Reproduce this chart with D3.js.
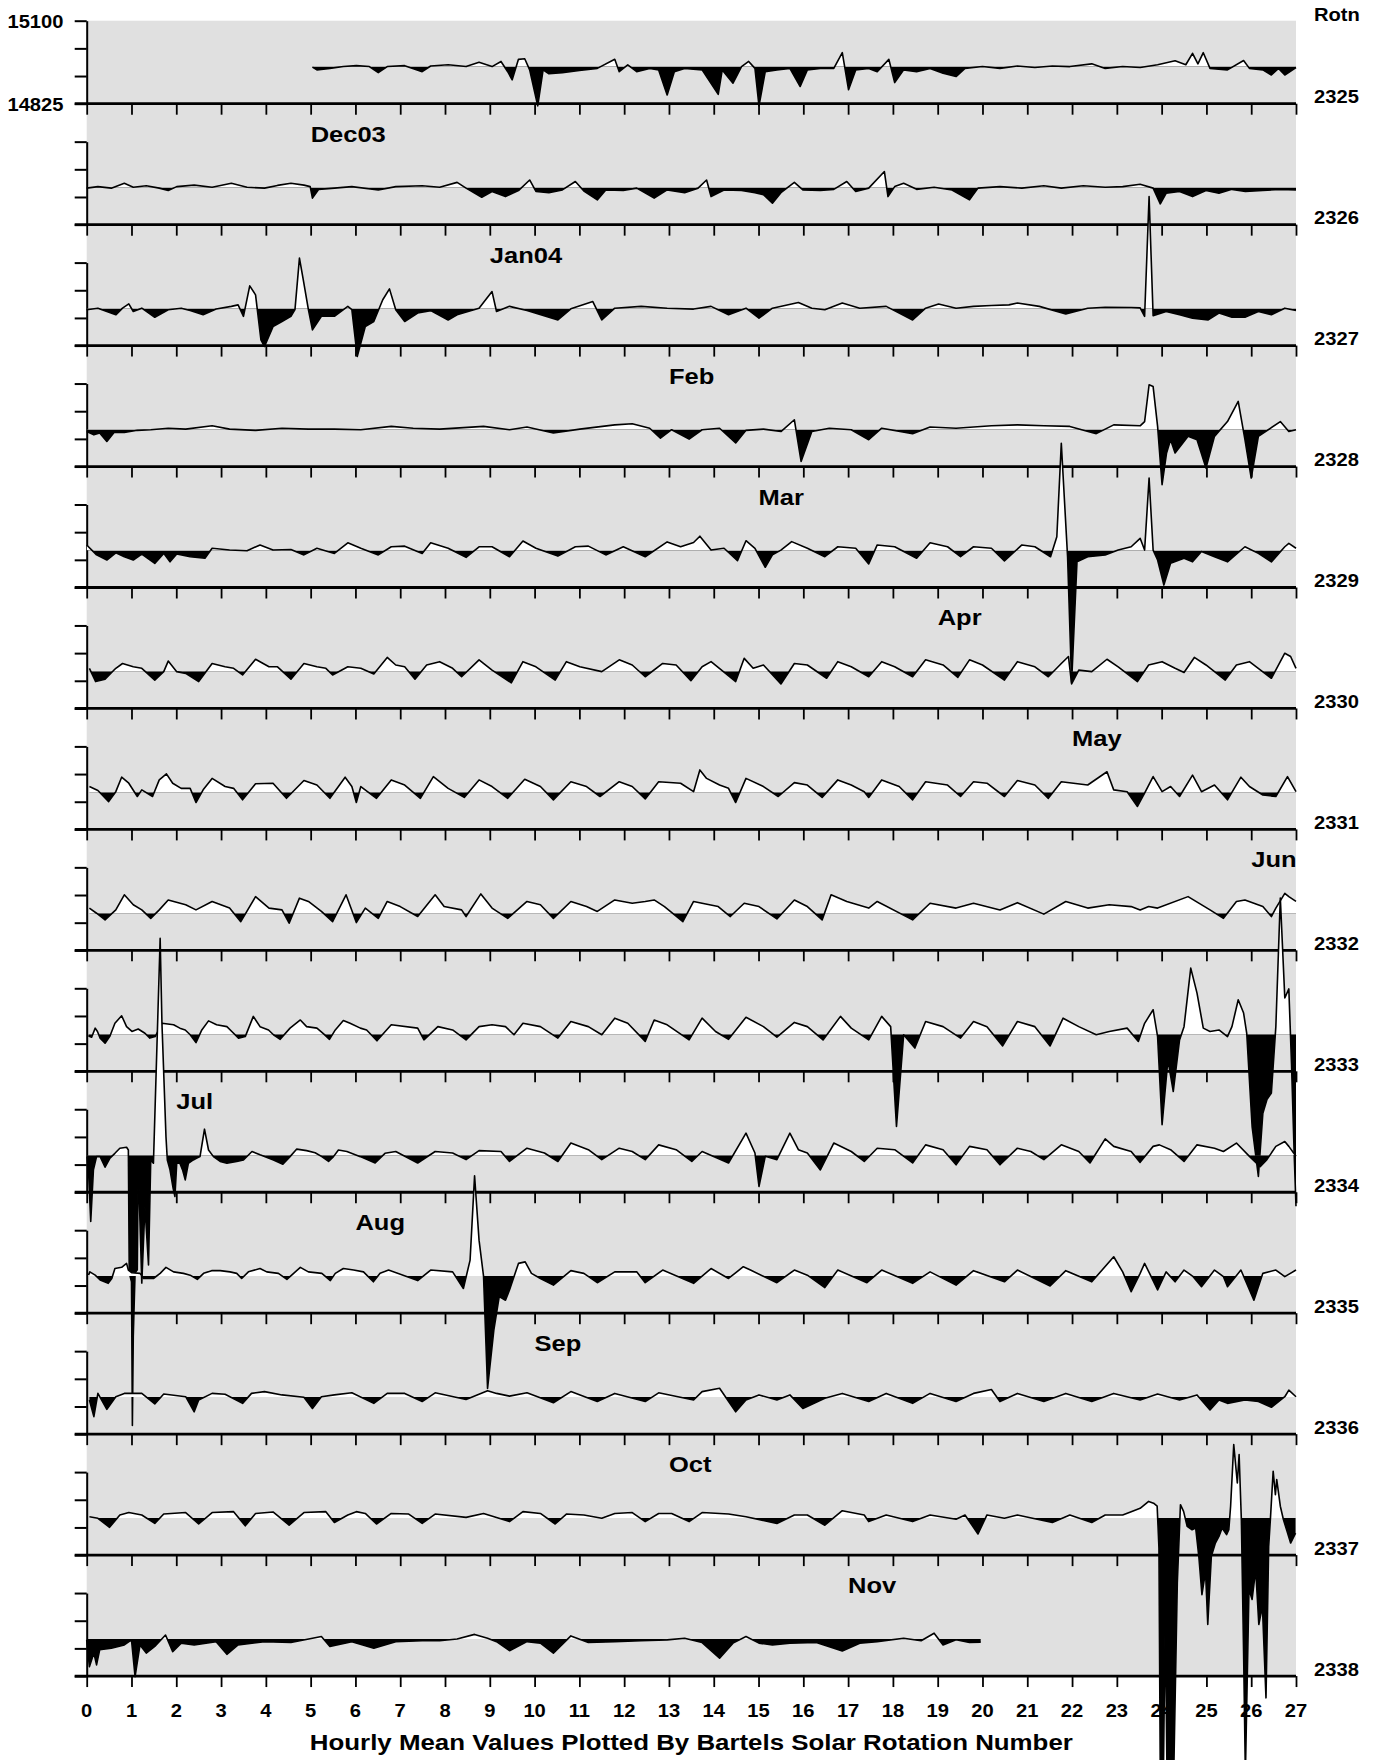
<!DOCTYPE html>
<html>
<head>
<meta charset="utf-8">
<script src="https://cdn.jsdelivr.net/npm/d3@7"></script>
<style>
  body { margin: 0; background: #fff; }
  svg text { font-family: "Liberation Sans", Arial, sans-serif; font-weight: bold; fill: #000; }
</style>
</head>
<body>
<svg id="chart" width="1375" height="1760"></svg>
<script>
// hourly mean values, as [day of rotation, nT above 14948 nT]
const r2325 = [[5.04,-2],[5.14,-11],[5.43,-6],[5.73,0],[6.02,3],[6.31,0],[6.51,-20],[6.71,0],[7.10,3],[7.49,-17],[7.68,2],[8.07,6],[8.47,0],[8.76,14],[9.05,0],[9.25,17],[9.40,-17],[9.50,-44],[9.64,24],[9.78,26],[9.89,-11],[10.07,-130],[10.19,-11],[10.32,-24],[10.62,-20],[11.00,-13],[11.40,-6],[11.79,24],[11.89,-17],[12.08,6],[12.28,-17],[12.57,-6],[12.77,-11],[12.96,-94],[13.12,-17],[13.35,-6],[13.74,-11],[14.10,-92],[14.19,-11],[14.43,-55],[14.62,0],[14.78,17],[14.92,-6],[15.01,-130],[15.15,-17],[15.41,-11],[15.70,-6],[15.93,-66],[16.09,-11],[16.38,-6],[16.68,-6],[16.87,46],[17.01,-77],[17.17,-11],[17.46,-6],[17.65,-17],[17.91,24],[18.04,-53],[18.24,-11],[18.53,-17],[18.83,-6],[19.12,-22],[19.41,-33],[19.61,-6],[20.0,0],[20.39,-6],[20.78,2],[21.17,-3],[21.56,2],[21.95,0],[22.44,9],[22.74,-6],[23.13,0],[23.52,-3],[23.91,6],[24.30,19],[24.54,6],[24.69,44],[24.81,9],[24.93,46],[25.08,-6],[25.47,-11],[25.83,20],[25.96,-6],[26.26,-11],[26.45,-28],[26.61,-6],[26.75,-28],[27.0,-3]];
const r2326 = [[0,-2],[0.25,3],[0.55,-2],[0.84,14],[1.04,1],[1.33,6],[1.62,-2],[1.82,-10],[2.01,3],[2.40,8],[2.80,1],[3.23,14],[3.58,1],[3.97,-2],[4.26,7],[4.56,14],[4.85,8],[4.99,3],[5.04,-35],[5.18,-6],[5.53,-2],[5.92,3],[6.51,-8],[6.90,3],[7.49,6],[7.88,1],[8.27,17],[8.47,-2],[8.82,-32],[9.05,-13],[9.35,-30],[9.64,-10],[9.89,25],[10.03,-13],[10.32,-17],[10.62,-8],[10.91,20],[11.11,-13],[11.40,-41],[11.59,-8],[11.98,-10],[12.28,-2],[12.67,-35],[12.96,-8],[13.35,-17],[13.65,-2],[13.84,25],[13.94,-30],[14.23,-8],[14.62,-10],[14.92,-17],[15.11,-24],[15.31,-52],[15.50,-17],[15.80,17],[15.99,-8],[16.38,-10],[16.68,-6],[16.97,20],[17.17,-13],[17.46,-2],[17.81,53],[17.89,-30],[18.04,3],[18.24,14],[18.53,-6],[18.92,1],[19.32,-8],[19.71,-41],[19.90,-2],[20.39,3],[20.88,-2],[21.37,6],[21.76,-2],[22.25,6],[22.74,1],[23.13,3],[23.52,11],[23.81,-2],[23.97,-54],[24.10,-19],[24.40,-13],[24.69,-30],[24.99,-10],[25.28,-19],[25.57,-6],[25.87,-13],[26.26,-10],[26.65,-6],[27.0,-8]];
const r2327 = [[0,-4],[0.25,1],[0.45,-10],[0.65,-21],[0.80,1],[0.94,15],[1.04,-10],[1.23,1],[1.52,-29],[1.82,-4],[2.11,1],[2.31,-7],[2.60,-21],[2.89,-2],[3.23,7],[3.38,12],[3.50,-26],[3.64,75],[3.77,45],[3.89,-104],[3.97,-126],[4.16,-60],[4.36,-43],[4.56,-26],[4.65,-4],[4.75,167],[4.83,100],[4.95,-4],[5.04,-71],[5.24,-26],[5.53,-26],[5.83,7],[5.92,-4],[6.04,-159],[6.22,-60],[6.41,-43],[6.61,29],[6.76,65],[6.90,-4],[7.10,-43],[7.39,-15],[7.68,-7],[8.07,-38],[8.27,-21],[8.76,1],[9.05,56],[9.15,-10],[9.44,7],[9.83,-7],[10.52,-38],[10.81,-1],[11.30,23],[11.50,-38],[11.79,1],[12.38,7],[12.96,1],[13.55,-2],[13.94,7],[14.33,-21],[14.72,1],[15.01,-32],[15.31,1],[15.89,20],[16.19,1],[16.48,-4],[16.87,18],[17.26,1],[17.85,7],[18.44,-38],[18.73,1],[19.02,15],[19.41,1],[19.80,7],[20.20,10],[20.59,12],[20.78,18],[21.27,7],[21.86,-18],[22.35,1],[22.74,4],[23.32,3],[23.52,2],[23.62,-26],[23.72,371],[23.81,-24],[24.10,-10],[24.40,-21],[24.69,-32],[25.04,-38],[25.28,-15],[25.57,-29],[25.86,-29],[26.16,-10],[26.45,-21],[26.75,1],[27.0,-7]];
const r2328 = [[0,-7],[0.16,-18],[0.29,-12],[0.45,-40],[0.61,-10],[0.84,-10],[1.13,-3],[1.43,-1],[1.82,4],[2.21,1],[2.80,12],[3.19,1],[3.77,-3],[4.36,4],[4.95,1],[5.53,1],[6.12,-1],[6.80,10],[7.29,4],[7.88,1],[8.86,10],[9.44,-1],[9.83,8],[10.42,-12],[11.01,1],[11.79,15],[12.18,19],[12.57,4],[12.81,-29],[13.06,-1],[13.45,-32],[13.74,-1],[14.13,4],[14.49,-45],[14.72,-3],[15.11,1],[15.50,-7],[15.80,32],[15.95,-106],[16.19,-7],[16.58,4],[17.07,-1],[17.46,-34],[17.75,4],[18.44,-14],[18.83,8],[19.41,4],[20.20,12],[20.78,15],[21.37,12],[21.95,10],[22.54,-14],[22.93,15],[23.52,12],[23.62,26],[23.72,148],[23.81,142],[23.91,10],[24.01,-183],[24.11,-78],[24.20,-34],[24.30,-78],[24.59,-23],[24.79,-34],[24.99,-128],[25.18,-23],[25.47,26],[25.71,93],[25.86,-34],[26.0,-161],[26.16,-23],[26.65,26],[26.84,-7],[27.0,-1]];
const r2329 = [[0,18],[0.22,-15],[0.45,-32],[0.65,-8],[0.84,-21],[1.04,-32],[1.23,-12],[1.52,-43],[1.72,-10],[1.86,-38],[2.01,-12],[2.31,-21],[2.64,-26],[2.80,7],[3.19,1],[3.58,-1],[3.87,18],[4.16,1],[4.56,3],[4.85,-15],[5.14,7],[5.53,-10],[5.83,25],[6.12,7],[6.51,-15],[6.80,12],[7.10,14],[7.49,-10],[7.68,25],[8.07,7],[8.47,-23],[8.76,12],[9.05,12],[9.44,-21],[9.74,31],[10.03,7],[10.52,-19],[10.91,12],[11.20,14],[11.59,-15],[11.98,12],[12.47,-21],[12.96,28],[13.26,12],[13.55,26],[13.69,47],[13.94,1],[14.23,7],[14.53,-34],[14.72,32],[14.92,7],[15.15,-56],[15.31,-15],[15.50,1],[15.74,29],[16.09,7],[16.48,-21],[16.77,12],[17.17,7],[17.46,-45],[17.65,18],[18.04,12],[18.53,-26],[18.83,25],[19.22,12],[19.51,-21],[19.80,12],[20.20,7],[20.49,-35],[20.88,18],[21.17,12],[21.52,-21],[21.66,45],[21.76,355],[21.90,-21],[21.99,-438],[22.11,-38],[22.35,-21],[22.74,-15],[23.03,1],[23.32,12],[23.52,40],[23.62,1],[23.72,240],[23.81,1],[23.91,-32],[24.05,-115],[24.20,-43],[24.50,-26],[24.69,-38],[24.89,-4],[25.18,-21],[25.47,-38],[25.86,12],[26.16,-10],[26.45,-38],[26.75,12],[26.84,23],[27.0,7]];
const r2330 = [[0.06,10],[0.20,-34],[0.41,-26],[0.65,10],[0.80,26],[1.04,15],[1.23,10],[1.52,-29],[1.72,-1],[1.82,34],[2.01,-1],[2.21,-7],[2.50,-34],[2.80,26],[3.09,15],[3.28,10],[3.48,-12],[3.77,40],[4.07,15],[4.26,15],[4.56,-26],[4.85,26],[5.14,15],[5.34,10],[5.49,-12],[5.83,15],[6.12,10],[6.41,-9],[6.71,46],[6.90,21],[7.10,15],[7.33,-26],[7.59,21],[7.88,32],[8.17,10],[8.37,-18],[8.76,38],[9.05,4],[9.48,-38],[9.74,32],[10.03,15],[10.46,-29],[10.71,32],[11.01,15],[11.50,-1],[11.89,38],[12.18,21],[12.47,-18],[12.86,26],[13.16,21],[13.49,-31],[13.74,15],[13.94,32],[14.49,-34],[14.68,43],[14.88,10],[15.11,21],[15.50,-42],[15.80,26],[16.09,21],[16.52,-23],[16.77,32],[17.07,15],[17.46,-18],[17.75,32],[18.04,15],[18.44,-18],[18.73,38],[19.12,21],[19.45,-20],[19.71,38],[20.0,21],[20.49,-29],[20.78,32],[21.17,15],[21.47,-18],[21.76,26],[21.92,49],[21.99,-42],[22.15,4],[22.44,-1],[22.78,40],[23.03,15],[23.46,-34],[23.71,21],[24.01,32],[24.30,10],[24.50,-4],[24.73,46],[24.99,21],[25.42,-29],[25.67,21],[25.96,32],[26.45,-23],[26.75,60],[26.88,49],[27.0,10]];
const r2331 = [[0.06,19],[0.25,6],[0.49,-31],[0.65,2],[0.78,50],[0.94,30],[1.13,-14],[1.23,8],[1.47,-14],[1.62,41],[1.78,61],[1.92,30],[2.11,13],[2.31,13],[2.44,-34],[2.60,8],[2.80,46],[3.09,19],[3.28,13],[3.48,-25],[3.77,28],[4.16,30],[4.46,-20],[4.85,39],[5.14,24],[5.43,-20],[5.77,50],[5.92,19],[6.02,-34],[6.12,19],[6.47,-20],[6.80,41],[7.10,24],[7.45,-20],[7.74,52],[8.07,13],[8.43,-17],[8.76,41],[9.05,19],[9.40,-20],[9.78,43],[10.13,19],[10.42,-25],[10.81,35],[11.16,19],[11.46,-14],[11.89,35],[12.18,19],[12.47,-22],[12.77,35],[13.26,30],[13.55,2],[13.69,74],[13.84,46],[14.13,24],[14.33,13],[14.49,-34],[14.72,46],[15.11,19],[15.44,-14],[15.80,32],[16.09,24],[16.42,-17],[16.77,41],[17.07,24],[17.36,2],[17.46,-17],[17.75,41],[18.14,19],[18.44,-25],[18.73,35],[19.22,24],[19.51,-14],[19.80,35],[20.10,30],[20.49,-14],[20.78,39],[21.17,24],[21.47,-20],[21.76,35],[22.35,24],[22.78,68],[22.93,8],[23.23,2],[23.46,-47],[23.62,-3],[23.81,52],[24.01,2],[24.20,19],[24.40,-14],[24.69,57],[24.89,2],[25.18,24],[25.47,-25],[25.77,50],[25.96,19],[26.26,-9],[26.55,-14],[26.81,52],[27.0,2]];
const r2332 = [[0.06,17],[0.22,0],[0.41,-22],[0.65,11],[0.84,61],[1.04,28],[1.23,11],[1.43,-17],[1.62,11],[1.82,44],[2.21,28],[2.44,11],[2.80,39],[3.19,17],[3.44,-28],[3.77,55],[4.07,17],[4.36,11],[4.52,-33],[4.75,50],[4.95,39],[5.24,6],[5.49,-28],[5.79,61],[6.02,-31],[6.22,17],[6.51,-17],[6.71,39],[7.0,22],[7.39,-11],[7.78,61],[7.98,22],[8.37,11],[8.47,-11],[8.80,64],[9.05,17],[9.40,-17],[9.83,39],[10.13,28],[10.42,-17],[10.81,39],[11.16,22],[11.40,6],[11.79,44],[12.18,33],[12.47,39],[12.67,44],[12.90,22],[13.31,-28],[13.55,39],[13.74,33],[14.10,22],[14.37,-11],[14.68,33],[15.01,22],[15.41,-19],[15.80,44],[16.09,22],[16.42,-22],[16.62,61],[16.97,39],[17.46,17],[17.65,39],[18.44,-22],[18.83,33],[19.41,17],[19.80,33],[20.39,11],[20.78,35],[21.37,-3],[21.86,39],[22.35,17],[22.83,28],[23.32,22],[23.52,11],[23.71,22],[23.91,17],[24.59,55],[25.08,11],[25.38,-17],[25.67,39],[25.86,44],[26.26,22],[26.45,-11],[26.55,17],[26.75,66],[26.84,55],[27.0,39]];
const r2333 = [[0.04,-6],[0.11,-10],[0.19,20],[0.24,9],[0.30,-13],[0.41,-30],[0.52,-6],[0.63,36],[0.78,61],[0.89,25],[1.01,9],[1.15,17],[1.30,3],[1.41,-13],[1.53,-8],[1.68,36],[1.94,31],[2.08,20],[2.20,14],[2.31,-2],[2.44,-28],[2.57,14],[2.72,44],[2.90,31],[3.13,25],[3.24,9],[3.39,-13],[3.54,-8],[3.72,59],[3.87,25],[4.06,14],[4.17,-2],[4.32,-17],[4.54,20],[4.77,47],[4.91,25],[5.14,20],[5.29,1],[5.42,-17],[5.55,14],[5.73,45],[5.88,36],[6.11,20],[6.25,14],[6.48,-22],[6.80,31],[7.39,20],[7.53,-19],[7.84,25],[8.17,14],[8.47,-19],[8.76,25],[9.05,31],[9.35,25],[9.54,-2],[9.74,36],[10.13,25],[10.52,-13],[10.81,42],[11.20,25],[11.50,-2],[11.79,53],[12.08,36],[12.47,-24],[12.67,47],[12.96,31],[13.45,-19],[13.74,53],[14.04,9],[14.33,-17],[14.72,56],[15.11,25],[15.41,-10],[15.80,39],[16.09,25],[16.44,-19],[16.83,59],[17.07,20],[17.46,-19],[17.75,59],[17.95,25],[18.08,-306],[18.24,-2],[18.49,-46],[18.73,42],[19.12,25],[19.51,-13],[19.80,42],[20.10,25],[20.45,-39],[20.78,42],[21.17,25],[21.51,-39],[21.80,53],[22.15,25],[22.54,-2],[22.83,9],[23.23,20],[23.48,-24],[23.62,36],[23.81,81],[23.91,-8],[24.01,-300],[24.14,-85],[24.26,-190],[24.40,-19],[24.50,25],[24.65,219],[24.79,136],[24.93,20],[25.08,9],[25.28,14],[25.47,-8],[25.57,25],[25.71,114],[25.83,70],[25.90,3],[26.02,-306],[26.16,-471],[26.26,-262],[26.35,-217],[26.45,-195],[26.55,25],[26.65,451],[26.75,120],[26.84,150],[26.90,-100],[26.96,-400],[27.0,-570]];
const r2334 = [[0.01,-5],[0.04,-49],[0.09,-220],[0.15,-49],[0.22,-5],[0.30,-5],[0.41,-40],[0.52,-10],[0.63,6],[0.74,23],[0.89,26],[0.93,17],[0.95,-390],[1.00,-420],[1.02,-896],[1.04,-600],[1.08,-390],[1.13,-380],[1.15,-20],[1.23,-424],[1.30,-170],[1.38,-364],[1.43,-15],[1.49,-27],[1.64,718],[1.68,437],[1.77,61],[1.80,-16],[1.86,-49],[1.93,-110],[1.97,-137],[2.01,-27],[2.08,-27],[2.14,-49],[2.20,-82],[2.27,-27],[2.38,-16],[2.46,-10],[2.53,-5],[2.63,86],[2.72,17],[2.83,-5],[2.98,-21],[3.13,-27],[3.35,-21],[3.50,-16],[3.69,12],[3.87,1],[4.17,-16],[4.38,-30],[4.54,-5],[4.69,20],[4.91,15],[5.10,8],[5.25,-5],[5.40,-21],[5.51,-5],[5.62,17],[5.81,12],[6.11,-5],[6.44,-26],[6.66,6],[6.90,12],[7.39,-26],[7.78,12],[8.17,7],[8.47,-15],[8.76,15],[9.25,12],[9.44,-21],[9.83,23],[10.22,7],[10.52,-21],[10.81,40],[11.20,18],[11.50,-15],[11.89,23],[12.18,12],[12.47,-15],[12.77,34],[13.16,18],[13.51,-21],[13.74,12],[14.33,-26],[14.72,73],[14.92,7],[15.01,-104],[15.15,-4],[15.41,-15],[15.70,73],[15.89,18],[16.09,7],[16.38,-49],[16.68,40],[17.07,12],[17.36,-21],[17.65,23],[18.04,18],[18.44,-26],[18.73,34],[19.12,18],[19.41,-32],[19.71,29],[20.10,18],[20.39,-32],[20.78,23],[21.08,12],[21.37,-15],[21.76,34],[22.15,12],[22.40,-26],[22.74,54],[22.93,29],[23.32,12],[23.52,-24],[23.81,29],[23.95,34],[24.20,18],[24.50,-21],[24.79,34],[25.18,23],[25.38,12],[25.67,40],[25.96,-4],[26.20,-38],[26.35,-15],[26.55,29],[26.75,45],[26.84,29],[27.0,-4]];
const r2335 = [[0.04,3],[0.07,14],[0.19,3],[0.30,-13],[0.48,-24],[0.56,-8],[0.63,25],[0.78,29],[0.89,42],[0.93,20],[1.01,11],[1.19,9],[1.27,-8],[1.49,-8],[1.64,9],[1.77,29],[1.94,14],[2.16,9],[2.31,3],[2.47,-11],[2.61,9],[2.79,18],[2.98,18],[3.20,14],[3.35,9],[3.46,-8],[3.61,14],[3.87,25],[4.02,14],[4.28,9],[4.47,-11],[4.62,9],[4.77,29],[4.95,14],[5.25,9],[5.44,-15],[5.55,9],[5.73,25],[5.96,20],[6.18,14],[6.40,-19],[6.55,9],[6.74,20],[7.39,-15],[7.68,20],[8.17,14],[8.41,-41],[8.56,53],[8.66,332],[8.76,119],[8.86,0],[8.95,-372],[9.09,-179],[9.21,-68],[9.35,-80],[9.44,-46],[9.64,42],[9.79,47],[9.93,9],[10.13,-8],[10.42,-30],[10.81,18],[11.10,9],[11.40,-22],[11.79,14],[12.28,14],[12.47,-22],[12.86,20],[13.55,-24],[13.94,25],[14.33,-8],[14.66,31],[14.82,20],[15.41,-22],[15.80,20],[16.09,3],[16.48,-38],[16.77,20],[17.42,-22],[17.75,20],[18.44,-24],[18.83,14],[19.41,-30],[19.80,18],[20.49,-19],[20.78,20],[21.51,-33],[21.86,18],[22.44,-19],[22.93,64],[23.13,14],[23.32,-52],[23.52,9],[23.62,42],[23.75,3],[23.91,-46],[24.10,14],[24.30,-19],[24.50,20],[24.69,0],[24.89,-35],[25.18,20],[25.38,-2],[25.47,-35],[25.77,20],[26.06,-80],[26.26,9],[26.55,20],[26.75,-2],[27.0,20]];
const r2336 = [[0.06,-10],[0.16,-65],[0.25,12],[0.45,-41],[0.65,1],[0.84,12],[1.23,12],[1.52,-23],[1.72,10],[2.21,1],[2.40,-49],[2.50,-10],[2.80,12],[3.09,9],[3.48,-21],[3.68,12],[3.97,18],[4.36,7],[4.85,-1],[5.04,-38],[5.24,1],[5.53,7],[5.92,14],[6.41,-21],[6.71,12],[7.10,12],[7.49,-15],[7.78,14],[8.47,-8],[8.95,21],[9.15,12],[9.44,3],[9.83,14],[10.42,-19],[10.81,18],[11.40,-15],[11.79,12],[12.47,-15],[12.77,14],[13.55,-10],[13.74,18],[14.13,29],[14.49,-49],[14.72,-10],[15.01,7],[15.41,-10],[15.70,7],[15.99,-38],[16.48,-4],[16.87,12],[17.46,-15],[17.85,12],[18.44,-21],[18.83,12],[19.41,-15],[19.80,12],[20.20,25],[20.39,-15],[20.78,12],[21.37,-15],[21.86,12],[22.44,-15],[22.93,12],[23.52,-10],[23.91,10],[24.40,-10],[24.79,7],[25.08,-43],[25.28,-10],[25.47,-21],[25.86,-10],[26.16,-15],[26.45,-34],[26.75,1],[26.84,23],[27.0,1]];
const r2337 = [[0.06,4],[0.25,-1],[0.51,-31],[0.74,10],[0.94,18],[1.23,10],[1.52,-18],[1.72,13],[2.21,18],[2.50,-20],[2.80,18],[3.28,21],[3.54,-26],[3.77,15],[4.16,20],[4.52,-24],[4.85,18],[5.34,21],[5.53,-15],[5.83,10],[6.02,21],[6.22,15],[6.47,-20],[6.80,15],[7.19,13],[7.49,-18],[7.78,13],[8.47,2],[8.86,15],[9.44,-12],[9.74,21],[10.13,15],[10.46,-20],[10.71,13],[11.10,10],[11.50,-1],[11.79,15],[12.18,18],[12.47,-12],[12.77,15],[13.06,15],[13.45,-12],[13.74,18],[14.33,13],[14.72,4],[15.41,-18],[15.80,10],[16.09,10],[16.48,-24],[16.87,24],[17.36,10],[17.46,-12],[17.85,10],[18.44,-12],[18.83,10],[19.41,-4],[19.61,10],[19.90,-53],[20.10,10],[20.49,-1],[20.78,10],[21.56,-15],[21.95,10],[22.44,-15],[22.74,10],[23.13,10],[23.32,21],[23.52,32],[23.71,55],[23.82,49],[23.90,39],[23.94,-100],[23.97,-850],[24.04,-850],[24.08,-320],[24.12,-850],[24.27,-850],[24.35,-215],[24.42,44],[24.49,22],[24.57,-28],[24.68,-39],[24.76,-33],[24.83,-127],[24.90,-254],[24.98,-177],[25.03,-353],[25.11,-127],[25.20,-83],[25.28,-61],[25.35,-33],[25.45,-55],[25.50,-39],[25.54,39],[25.61,243],[25.69,116],[25.73,210],[25.78,-6],[25.83,-447],[25.87,-850],[25.95,-237],[26.02,-270],[26.10,-171],[26.17,-353],[26.25,-292],[26.33,-596],[26.39,-94],[26.43,0],[26.49,155],[26.54,77],[26.57,127],[26.65,39],[26.72,-6],[26.80,-44],[26.88,-83],[26.99,-50]];
const r2338 = [[0.0,-3],[0.06,-92],[0.16,-47],[0.22,-86],[0.29,-36],[0.55,-31],[0.84,-20],[1.0,-3],[1.08,-125],[1.19,-20],[1.33,-47],[1.52,-25],[1.76,13],[1.92,-42],[2.11,-14],[2.40,-20],[2.89,-9],[3.13,-51],[3.38,-20],[3.97,-9],[4.56,-12],[5.24,8],[5.43,-25],[5.92,-9],[6.41,-31],[6.90,-9],[7.49,-6],[7.88,-6],[8.27,0],[8.66,15],[8.95,2],[9.15,-9],[9.44,-39],[9.83,-9],[10.13,-14],[10.42,-47],[10.81,10],[11.20,-12],[11.79,-9],[12.38,-6],[12.96,-3],[13.35,2],[13.74,-12],[14.13,-64],[14.43,-14],[14.72,8],[15.01,-14],[15.31,-20],[15.70,-14],[16.29,-12],[16.87,-40],[17.26,-14],[17.65,-9],[18.24,2],[18.63,-6],[18.92,19],[19.12,-20],[19.41,-3],[19.71,-12],[19.96,-11]];

const rotations = [2325, 2326, 2327, 2328, 2329, 2330, 2331, 2332, 2333, 2334, 2335, 2336, 2337, 2338];
const series = [r2325, r2326, r2327, r2328, r2329, r2330, r2331, r2332, r2333, r2334, r2335, r2336, r2337, r2338];
const monthNames = ['', 'Dec03', 'Jan04', 'Feb', 'Mar', 'Apr', 'May', 'Jun', '', 'Jul', 'Aug', 'Sep', 'Oct', 'Nov'];
const monthStart = [null, 5, 9, 13, 15, 19, 22, 26, null, 2, 6, 10, 13, 17];
const dayTicks = d3.range(0, 28);
const axisEnds = [14825, 15100];
const baseline = 14948;

const svg = d3.select('#chart');
const x = d3.scaleLinear().domain([0, 27]).range([86.7, 1296]);
const gap = 120.95, firstBottom = 103.7, panelH = 83;
const bottomOf = k => firstBottom + k * gap;
const leftTicks = d3.range(4).map(i => axisEnds[0] + i * (axisEnds[1] - axisEnds[0]) / 3);
const yFor = k => d3.scaleLinear().domain(axisEnds).range([bottomOf(k), bottomOf(k) - panelH]);

// stretched bold text like the original plotter output
function label(px, py, str, size, anchor, sx) {
  return svg.append('text')
    .attr('transform', `translate(${px},${py}) scale(${sx || 1.12},1)`)
    .attr('text-anchor', anchor || 'start')
    .style('font-size', size + 'px')
    .text(str);
}

svg.append('rect')
  .attr('x', x(0)).attr('y', bottomOf(0) - panelH)
  .attr('width', x(27) - x(0))
  .attr('height', bottomOf(rotations.length - 1) - bottomOf(0) + panelH)
  .attr('fill', '#e0e0e0');

// panel frames
rotations.forEach((rot, k) => {
  const yb = bottomOf(k);
  const y = yFor(k);

  const la = svg.append('g').attr('transform', `translate(${x(0)},0)`)
    .call(d3.axisLeft(y).tickValues(leftTicks).tickSize(12).tickSizeOuter(0).tickFormat(''));
  la.select('.domain').attr('stroke', '#000').attr('stroke-width', 2);
  la.selectAll('.tick line').attr('stroke', '#000').attr('stroke-width', 2);

  const ba = svg.append('g').attr('transform', `translate(0,${yb})`)
    .call(d3.axisBottom(x).tickValues(dayTicks).tickSize(11).tickSizeOuter(0).tickFormat(''));
  ba.select('.domain').remove();
  ba.selectAll('.tick line').attr('stroke', '#000').attr('stroke-width', 1.8);

  svg.append('line')
    .attr('x1', x(0) - 12).attr('x2', x(27))
    .attr('y1', yb).attr('y2', yb)
    .attr('stroke', '#000').attr('stroke-width', 2.8);

  label(1314, yb - 0.5, rot, 18);
  if (monthNames[k]) label(x(monthStart[k]), yb - panelH, monthNames[k], 22, 'start', 1.16);
});

const y0 = yFor(0);
label(63.5, y0(axisEnds[1]) + 6.8, axisEnds[1], 18, 'end');
label(63.5, y0(axisEnds[0]) + 6.8, axisEnds[0], 18, 'end');
label(1314, y0(axisEnds[1]), 'Rotn', 18);

dayTicks.forEach(d => label(x(d), 1717, d, 18, 'middle'));

svg.append('text')
  .attr('x', (x(0) + x(27)) / 2).attr('y', 1750)
  .attr('text-anchor', 'middle')
  .attr('textLength', 763).attr('lengthAdjust', 'spacingAndGlyphs')
  .style('font-size', '22px')
  .text('Hourly Mean Values Plotted By Bartels Solar Rotation Number');

// traces: white above the reference level, black below
const defs = svg.append('defs');
series.forEach((data, k) => {
  const y = yFor(k);
  const yBase = y(baseline);

  defs.append('clipPath').attr('id', `up${k}`)
    .append('rect').attr('x', x(0)).attr('y', -4000).attr('width', x(27) - x(0)).attr('height', 4000 + yBase);
  defs.append('clipPath').attr('id', `dn${k}`)
    .append('rect').attr('x', x(0)).attr('y', yBase).attr('width', x(27) - x(0)).attr('height', 4000);

  const area = d3.area()
    .x(d => x(d[0]))
    .y0(yBase)
    .y1(d => y(baseline + d[1]));
  const line = d3.line()
    .x(d => x(d[0]))
    .y(d => y(baseline + d[1]));

  const g = svg.append('g').attr('class', 'trace');
  g.append('path').datum(data).attr('d', area).attr('fill', '#fff').attr('clip-path', `url(#up${k})`);
  g.append('path').datum(data).attr('d', area).attr('fill', '#000').attr('clip-path', `url(#dn${k})`);
  g.append('path').datum(data).attr('d', line)
    .attr('fill', 'none').attr('stroke', '#000')
    .attr('stroke-width', 1.6).attr('stroke-linejoin', 'round');
});
</script>
</body>
</html>
